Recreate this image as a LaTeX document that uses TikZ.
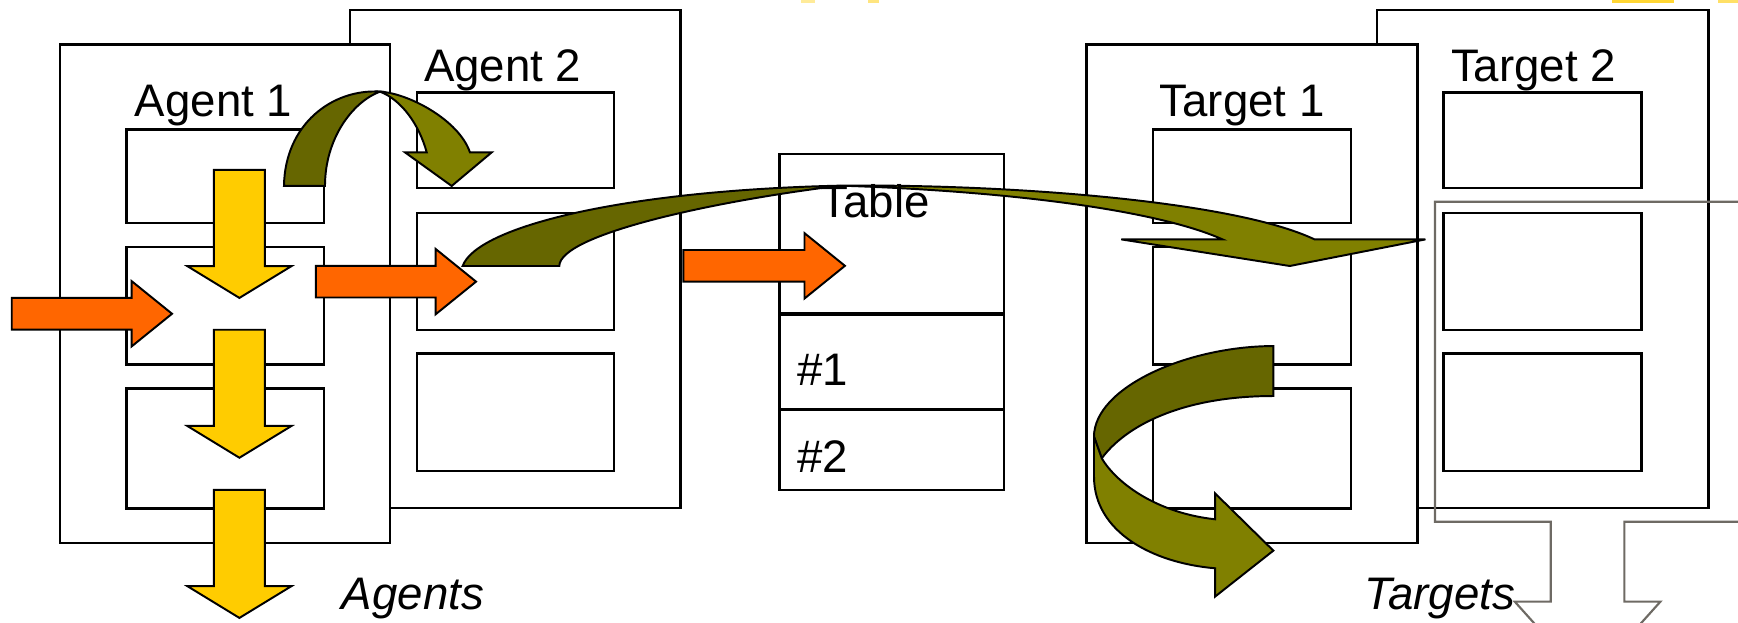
\documentclass[tikz,border=0pt]{standalone}
\usepackage{fontspec}
\setmainfont{Liberation Sans}

\definecolor{arrorange}{HTML}{FF6600}
\definecolor{arryellow}{HTML}{FFCC00}
\definecolor{olivedark}{HTML}{666600}
\definecolor{olivelight}{HTML}{808000}
\definecolor{calloutgray}{HTML}{6E6A64}

\tikzset{
  frame/.style={draw, fill=white, line width=0.62pt},
  cell/.style={draw, line width=0.62pt},
  blockarrow/.style={draw, line width=0.5pt, line join=miter},
  callout/.style={draw=calloutgray, line width=0.55pt},
  lbl/.style={anchor=base west, inner sep=0pt, font=\fontsize{11.7}{14}\selectfont},
}

% yellow arrow pointing down: centre x, top y, tip y
\newcommand{\yellowdown}[3]{%
  \filldraw[blockarrow, fill=arryellow] (#1-23,#2) -- (#1+23,#2) -- (#1+23,#3-28.7)
    -- (#1+47,#3-28.7) -- (#1,#3) -- (#1-47,#3-28.7) -- (#1-23,#3-28.7) -- cycle;}
% orange arrow pointing right: start x, centre y, tip x
\newcommand{\orangeright}[3]{%
  \filldraw[blockarrow, fill=arrorange] (#1,#2-14.3) -- (#3-36.5,#2-14.3) -- (#3-36.5,#2-29.5)
    -- (#3,#2) -- (#3-36.5,#2+29.5) -- (#3-36.5,#2+14.3) -- (#1,#2+14.3) -- cycle;}

\begin{document}
\begin{tikzpicture}[x=0.01cm, y=-0.01cm]
    \useasboundingbox (0,0) rectangle (1568,562);
    \clip (0,0) rectangle (1568,562);

    % Agent 2 (behind)
    \draw[frame] (316,8.8) rectangle (613.9,458.5);
    \draw[cell] (376.1,83.4) rectangle (554,169.8);
    \draw[cell] (376.1,192) rectangle (554,297.5);
    \draw[cell] (376.1,319) rectangle (554,425.1);

    % Agent 1 (front)
    \draw[frame] (54,40.2) rectangle (352,490);
    \draw[cell] (114.3,116.7) rectangle (292.2,201.4);
    \draw[cell] (114.3,222.9) rectangle (292.2,328.7);
    \draw[cell] (114.3,350.5) rectangle (292.2,458.9);

    % Target 2 (behind)
    \draw[frame] (1242.2,9) rectangle (1541.2,458.5);
    \draw[cell] (1302.4,83.4) rectangle (1481,169.8);
    \draw[cell] (1302.4,192) rectangle (1481,297.5);
    \draw[cell] (1302.4,319) rectangle (1481,425.1);

    % Target 1 (front)
    \draw[frame] (980.2,40.2) rectangle (1279,490);
    \draw[cell] (1040,116.7) rectangle (1218.9,201.4);
    \draw[cell] (1040,222.9) rectangle (1218.9,328.7);
    \draw[cell] (1040,350.5) rectangle (1218.9,458.9);

    % Table with two rows
    \draw[frame] (703.1,138.7) rectangle (905.8,442);
    \draw[line width=0.95pt] (703.1,283.2) -- (905.8,283.2);
    \draw[cell] (703.1,369.3) -- (905.8,369.3);

    % Labels
    \node[lbl] (agentone) at (121,105) {Agent 1};
    \node[lbl] (agenttwo) at (382,73.4) {Agent 2};
    \node[lbl] (targetone) at (1045.5,105) {Target 1};
    \node[lbl] (targettwo) at (1308.4,73.5) {Target 2};
    \node[lbl] (tablehead) at (739.8,196.5) {Table};
    \node[lbl] (rowone) at (718.7,347.7) {\#1};
    \node[lbl] (rowtwo) at (718.7,426.6) {\#2};
    \node[lbl, font=\fontsize{11.7}{14}\selectfont\itshape] (agents) at (307.8,550.3) {Agents};
    \node[lbl, font=\fontsize{11.7}{14}\selectfont\itshape] (targets) at (1230.4,550.3) {Targets};

    % Yellow arrows down through Agent 1
    \yellowdown{216}{153.3}{268.8}
    \yellowdown{216}{297.5}{413}
    \yellowdown{216}{442}{557.5}

    % Orange arrows
    \orangeright{10.6}{283.1}{155.2}
    \orangeright{285}{254.1}{429.5}
    \orangeright{616.5}{239.85}{762.3}

    % Olive arrow: Agent 1 -> Agent 2
    \filldraw[blockarrow, fill=olivedark] (256.2,167.8) .. controls (257,112) and (300,80) .. (342.8,82.7)
        .. controls (318,92) and (293.2,125) .. (293.2,167.8) -- cycle;
    \filldraw[blockarrow, fill=olivelight] (342.8,82.7) .. controls (368,84) and (414,108) .. (424,137.5)
        -- (443.6,137.5) -- (407.5,167.8) -- (365.4,137.5) -- (385,137.5)
        .. controls (378,112) and (362,90) .. (342.8,82.7) -- cycle;

    % Olive arrow: Agent 2 -> Target 1
    \filldraw[blockarrow, fill=olivedark] (417.4,240) .. controls (430,205) and (560,172) .. (757.9,167.5)
        .. controls (640,182) and (505,212) .. (504.6,240) -- cycle;
    \filldraw[blockarrow, fill=olivelight] (757.9,167.5) .. controls (900,166) and (1110,180) .. (1186,216)
        -- (1286,216) -- (1163.6,240) -- (1011.6,216) -- (1103,216)
        .. controls (1040,188) and (900,172) .. (757.9,167.5) -- cycle;

    % Olive arrow: turn inside Target 1
    \filldraw[blockarrow, fill=olivedark] (1148.8,312.2) .. controls (1070,312.5) and (987,350) .. (987,394)
        -- (994,413.5) .. controls (1015,385) and (1065,357.3) .. (1148.8,357.3) -- cycle;
    \filldraw[blockarrow, fill=olivelight] (987,394) -- (987,430) .. controls (987,480) and (1040,508) .. (1096.2,512.7)
        -- (1096.2,538.3) -- (1148.8,496.8) -- (1096.2,445.1) -- (1096.2,468.5)
        .. controls (1045,463) and (1008,437) .. (994,413.5) -- cycle;

    % Down arrow callout over Target 2
    \draw[callout] (1294.7,182) -- (1570,182) -- (1570,470.7) -- (1465.5,470.7) -- (1465.5,542.8)
        -- (1498,542.8) -- (1432.3,616) -- (1366.6,542.8) -- (1399,542.8) -- (1399,470.7)
        -- (1294.7,470.7) -- cycle;

    % Arrow tips from above the top edge
    \fill[arryellow, opacity=0.4] (722.7,0) rectangle (735.3,2.7);
    \fill[arryellow, opacity=0.5] (783.1,0) rectangle (793,2.7);
    \fill[arryellow, opacity=0.8] (1454.4,0) rectangle (1510.3,2.7);
    \fill[arryellow, opacity=0.6] (1550,0) rectangle (1568,2.7);
\end{tikzpicture}
\end{document}
